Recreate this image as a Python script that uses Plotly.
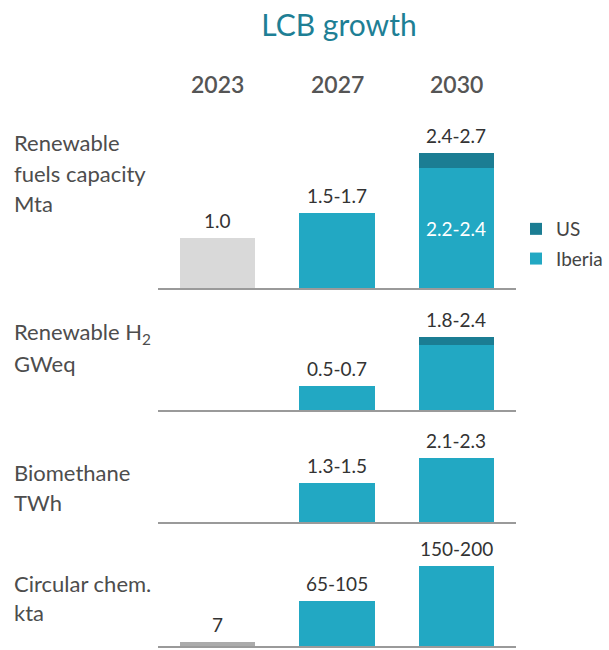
import plotly.graph_objects as go

W, H = 609, 650
FONT = "Lato"

years = ["2023", "2027", "2030"]
panel_titles = [
    ["Renewable", "fuels capacity", "Mta"],
    ["Renewable H<sub>2</sub>", "GWeq"],
    ["Biomethane", "TWh"],
    ["Circular chem.", "kta"],
]

# values (bar heights per panel)
base_2023 = [1.0, None, None, 7]           # grey "today" bars
iberia_2027 = [1.5, 0.6, 1.3, 80]
iberia_2030 = [2.4, 1.6, 2.1, 142]
us_2030 = [0.3, 0.2, 0.0, 0.0]

# text labels
label_2023 = ["1.0", "", "", "7"]
label_2027 = ["1.5-1.7", "0.5-0.7", "1.3-1.5", "65-105"]
label_2030 = ["2.4-2.7", "1.8-2.4", "2.1-2.3", "150-200"]
inner_label_2030 = ["2.2-2.4", "", "", ""]

# layout (pixels) per panel: baseline, top of plot area, y-range max
baselines_px = [288, 410, 522, 646]
tops_px = [120, 300, 430, 540]
ymax = [3.36, 2.71, 3.04, 188]
grey_colors = ["#d9d9d9", "#d9d9d9", "#d9d9d9", "#ababab"]
title_line_px = [[143, 173, 203], [333, 363], [473, 502], [583, 612]]

IBERIA = "#22a8c3"
US = "#1b7d93"


def py(px):
    return 1 - px / H


fig = go.Figure()
annotations = []
layout_axes = {}

for i in range(4):
    n = "" if i == 0 else str(i + 1)
    xa, ya = "x" + n, "y" + n
    if base_2023[i] is not None:
        fig.add_trace(go.Bar(
            x=["2023"], y=[base_2023[i]], xaxis=xa, yaxis=ya,
            marker=dict(color=grey_colors[i], line=dict(width=0)),
            showlegend=False, hoverinfo="skip"))
    fig.add_trace(go.Bar(
        x=["2027", "2030"], y=[iberia_2027[i], iberia_2030[i]], xaxis=xa, yaxis=ya,
        name="Iberia", legendgroup="Iberia", legendrank=2,
        marker=dict(color=IBERIA, line=dict(width=0)),
        showlegend=(i == 0), hoverinfo="skip"))
    fig.add_trace(go.Bar(
        x=["2030"], y=[us_2030[i]], xaxis=xa, yaxis=ya,
        name="US", legendgroup="US", legendrank=1,
        marker=dict(color=US, line=dict(width=0)),
        showlegend=(i == 0), hoverinfo="skip"))

    layout_axes["xaxis" + n] = dict(
        domain=[158 / W, 516 / W], anchor=ya, type="category",
        categoryorder="array", categoryarray=years, range=[-0.5, 2.5],
        showticklabels=False, ticks="", showgrid=False, zeroline=False,
        showline=True, linecolor="#9a9a9a", linewidth=1.5, fixedrange=True)
    layout_axes["yaxis" + n] = dict(
        domain=[py(baselines_px[i]), py(tops_px[i])], anchor=xa,
        range=[0, ymax[i]], visible=False, fixedrange=True)

    tops = [base_2023[i] or 0, iberia_2027[i], iberia_2030[i] + us_2030[i]]
    labels = [label_2023[i], label_2027[i], label_2030[i]]
    for k, (top, lab) in enumerate(zip(tops, labels)):
        if lab:
            annotations.append(dict(
                x=k, y=top, xref=xa, yref=ya, text=lab, showarrow=False,
                yanchor="bottom", yshift=4,
                font=dict(family=FONT, size=19, color="#333333")))
    if inner_label_2030[i]:
        annotations.append(dict(
            x=2, y=iberia_2030[i] / 2, xref=xa, yref=ya,
            text=inner_label_2030[i], showarrow=False, yanchor="middle",
            font=dict(family=FONT, size=19, color="#ffffff")))

    for line, ypx in zip(panel_titles[i], title_line_px[i]):
        annotations.append(dict(
            x=12 / W, y=py(ypx), xref="paper", yref="paper", text=line,
            showarrow=False, xanchor="left", yanchor="middle",
            font=dict(family=FONT, size=22, color="#4d4d4d")))

for k, yr in enumerate(years):
    annotations.append(dict(
        x=k, y=py(84), xref="x", yref="paper", text=yr, showarrow=False,
        yanchor="middle",
        font=dict(family=FONT, size=23, color="#555555", weight=600)))

fig.update_layout(
    width=W, height=H,
    margin=dict(l=0, r=0, t=0, b=0),
    paper_bgcolor="white", plot_bgcolor="white",
    barmode="stack", bargap=0.37,
    title=dict(text="LCB growth", x=339 / W, xanchor="center",
               y=py(25), yanchor="middle",
               font=dict(family=FONT, size=30, color="#1e7f95")),
    legend=dict(x=516 / W, y=py(210), xanchor="left", yanchor="top",
                font=dict(family=FONT, size=19, color="#444444"),
                bgcolor="rgba(0,0,0,0)", tracegroupgap=2, itemwidth=30),
    annotations=annotations,
    **layout_axes,
)

fig.write_html("out.html", config={"displayModeBar": False},
               post_script="document.body.style.margin='0';")
